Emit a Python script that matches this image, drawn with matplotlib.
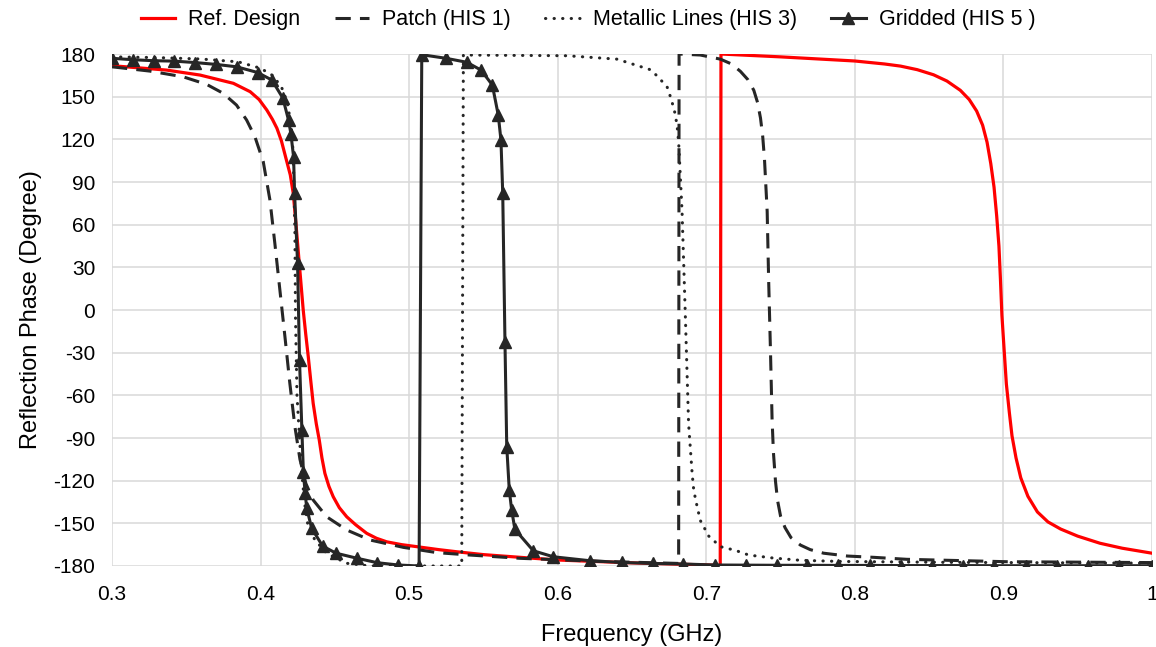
"""Reflection phase of the reference design and three HIS variants vs frequency."""

import matplotlib
matplotlib.use("Agg")
import matplotlib.pyplot as plt

# values (GHz, degrees)
REF_F = [0.300, 0.3368, 0.3593, 0.3817, 0.393, 0.399, 0.4042, 0.408, 0.411, 0.414,
         0.4165, 0.4185, 0.420, 0.422, 0.4237, 0.4253, 0.427, 0.4287, 0.4304, 0.4321,
         0.4338, 0.4354, 0.4375, 0.4395, 0.4413, 0.4433, 0.446, 0.4489, 0.453, 0.458,
         0.464, 0.4714, 0.478, 0.4849, 0.495, 0.5051, 0.520, 0.5321, 0.550, 0.5747,
         0.600, 0.650, 0.705, 0.7094,
         0.7099, 0.750, 0.800, 0.820, 0.8308, 0.842, 0.853, 0.862, 0.871, 0.877,
         0.882, 0.886, 0.889, 0.8915, 0.8937, 0.8955, 0.897, 0.898, 0.899, 0.9005,
         0.902, 0.904, 0.9058, 0.9085, 0.9117, 0.9165, 0.9229, 0.930, 0.9385, 0.950,
         0.965, 0.980, 1.000]
REF_P = [171.8, 168.7, 165.2, 159.4, 153.5, 148, 140.6, 134, 127.8, 119,
         109, 101, 95, 82, 62, 42, 21, 0, -17, -32.8,
         -50, -65.6, -80, -91.4, -104, -114.9, -124, -131.3, -139, -145.4,
         -151, -157, -160.5, -163, -165, -166.4, -168.5, -170, -172, -173.9,
         -175.8, -177.8, -179.4, -180,
         180, 178, 175.1, 173, 171.5, 169, 165.4, 161, 154.5, 148,
         139.9, 130, 118, 103, 86.4, 66, 45, 22, -3.6, -28,
         -52, -72, -88.5, -104, -118, -131, -142, -149, -154, -159,
         -164, -167.5, -171]

PATCH_F = [0.300, 0.3254, 0.3478, 0.3636, 0.3748, 0.3838, 0.3906, 0.3962, 0.4018,
           0.4063, 0.4096, 0.413, 0.4164, 0.4197, 0.4231, 0.4265, 0.4305, 0.4354,
           0.4445, 0.458, 0.4736, 0.4961, 0.5186, 0.541, 0.5747, 0.630, 0.6814,
           0.6817, 0.696, 0.7095, 0.717, 0.723, 0.728, 0.732, 0.7345, 0.7365, 0.738,
           0.7392, 0.741, 0.742, 0.7432, 0.7443, 0.7452, 0.7466, 0.748, 0.750, 0.753,
           0.757, 0.7634, 0.770, 0.779, 0.795, 0.8126, 0.835, 0.9027, 1.000]
PATCH_P = [171, 168, 164, 158.7, 152.4, 144.1, 133.6, 121.8, 104.3,
           77.3, 46.9, 14, -18.8, -51.6, -82, -105, -122, -133.6,
           -145.4, -154.7, -161.7, -166.9, -170.6, -172.3, -174.6, -176.8, -178.2,
           180, 179.3, 176.4, 173, 167.8, 162, 154.5, 146, 135, 122,
           105.8, 69.3, 20.7, -28, -76.8, -100, -120.5, -134, -144.9, -153,
           -160, -165.3, -168.5, -171, -173, -173.9, -175.3, -177, -177.6]

METAL_F = [0.300, 0.330, 0.360, 0.385, 0.400, 0.408, 0.414, 0.418, 0.4205, 0.422,
           0.4231, 0.4235, 0.4245, 0.4265, 0.4278, 0.4295, 0.432, 0.4366, 0.4445,
           0.458, 0.4737, 0.5332, 0.5354,
           0.5365, 0.6062, 0.6399, 0.6623, 0.6665, 0.6736, 0.6765, 0.6792, 0.6805,
           0.6814, 0.6837, 0.6859, 0.6881, 0.6905, 0.6916, 0.6938, 0.696, 0.7017,
           0.7095, 0.7196, 0.7286, 0.745, 0.7634, 0.790, 0.8577, 1.000]
METAL_P = [178, 177.5, 176.5, 174.5, 170, 165, 157, 146, 130, 110,
           54, -5, -60, -95, -115, -135, -152.4, -161.7, -171.1,
           -178.1, -180, -180, -180,
           179.3, 178.8, 176.4, 169, 165, 157, 148, 137.4, 128,
           118, 69.3, -3.6, -80, -115, -127, -138, -148, -159,
           -166.4, -169, -172.3, -174.4, -176, -176.8, -177.4, -178]

GRID_F = [0.300, 0.314, 0.328, 0.342, 0.356, 0.370, 0.384, 0.398, 0.4076, 0.415,
          0.4188, 0.4204, 0.4222, 0.4229, 0.4249, 0.4262, 0.4278, 0.4288, 0.430,
          0.4311, 0.4344, 0.4418, 0.4508, 0.4651, 0.4786, 0.4927, 0.5067,
          0.5085, 0.5248, 0.5388, 0.5484, 0.556, 0.560, 0.5618, 0.563, 0.5645,
          0.5657, 0.5674, 0.569, 0.5712, 0.5836, 0.597, 0.6217, 0.643, 0.6639,
          0.6845, 0.7059, 0.7267, 0.7473, 0.768, 0.7888, 0.8102, 0.8311, 0.8517,
          0.8726, 0.8937, 0.915, 0.9359, 0.9571, 0.978, 1.000]
GRID_P = [177, 176, 175.3, 175, 174, 172.7, 171, 167, 161.7, 149,
          133.6, 124, 107.8, 82, 32.8, -35, -84.4, -113.7, -128.9,
          -139.5, -153.5, -166, -171, -174.6, -177.7, -179.3, -180,
          179.5, 177, 174.2, 168.7, 158.2, 137, 119.5, 82, -22.3,
          -96, -126.6, -140.6, -154.3, -169.3, -173.5, -176.3, -177.5, -178.2,
          -178.6, -179.3, -179.4, -179.5, -179.5, -179.6, -179.6, -179.7, -179.7,
          -179.7, -179.8, -179.8, -179.8, -179.8, -179.8, -179.8]

LABELS = ["Ref. Design", "Patch (HIS 1)", "Metallic Lines (HIS 3)", "Gridded (HIS 5 )"]
DARK = "#262626"

plt.rcParams["font.family"] = ["Liberation Sans", "DejaVu Sans"]
plt.rcParams["axes.unicode_minus"] = False


def main():
    fig = plt.figure(figsize=(11.56, 6.47), dpi=100)
    ax = fig.add_axes([0.0969, 0.1252, 0.8996, 0.7913])

    ax.plot(REF_F, REF_P, color="#ff0000", lw=2.3, label=LABELS[0])
    ax.plot(PATCH_F, PATCH_P, color=DARK, lw=2.2, ls=(0, (5, 3)), label=LABELS[1])
    ax.plot(METAL_F, METAL_P, color=DARK, lw=2.2, ls=(0, (0.1, 2.7)),
            dash_capstyle="round", label=LABELS[2])
    ax.plot(GRID_F, GRID_P, color=DARK, lw=2.2, marker="^", ms=8, label=LABELS[3])

    ax.set_xlim(0.3, 1.0)
    ax.set_ylim(-180, 180)
    ax.set_xticks([0.3, 0.4, 0.5, 0.6, 0.7, 0.8, 0.9, 1.0])
    ax.set_xticklabels(["0.3", "0.4", "0.5", "0.6", "0.7", "0.8", "0.9", "1"])
    ax.set_yticks(range(-180, 181, 30))
    ax.grid(True, color="#d9d9d9", lw=1.1)
    ax.set_axisbelow(True)
    for s in ax.spines.values():
        s.set_visible(False)
    ax.tick_params(length=0, labelsize=15, pad=12)
    ax.tick_params(axis="x", pad=14)

    ax.set_xlabel("Frequency (GHz)", fontsize=17, labelpad=14)
    ax.set_ylabel("Reflection Phase (Degree)", fontsize=17, labelpad=8)

    ax.legend(loc="upper center", bbox_to_anchor=(0.4577, 1.125), ncol=4, frameon=False,
              fontsize=15.5, handlelength=1.6, handletextpad=0.6, columnspacing=1.6)

    fig.savefig("out.png", dpi=100)


if __name__ == "__main__":
    main()
